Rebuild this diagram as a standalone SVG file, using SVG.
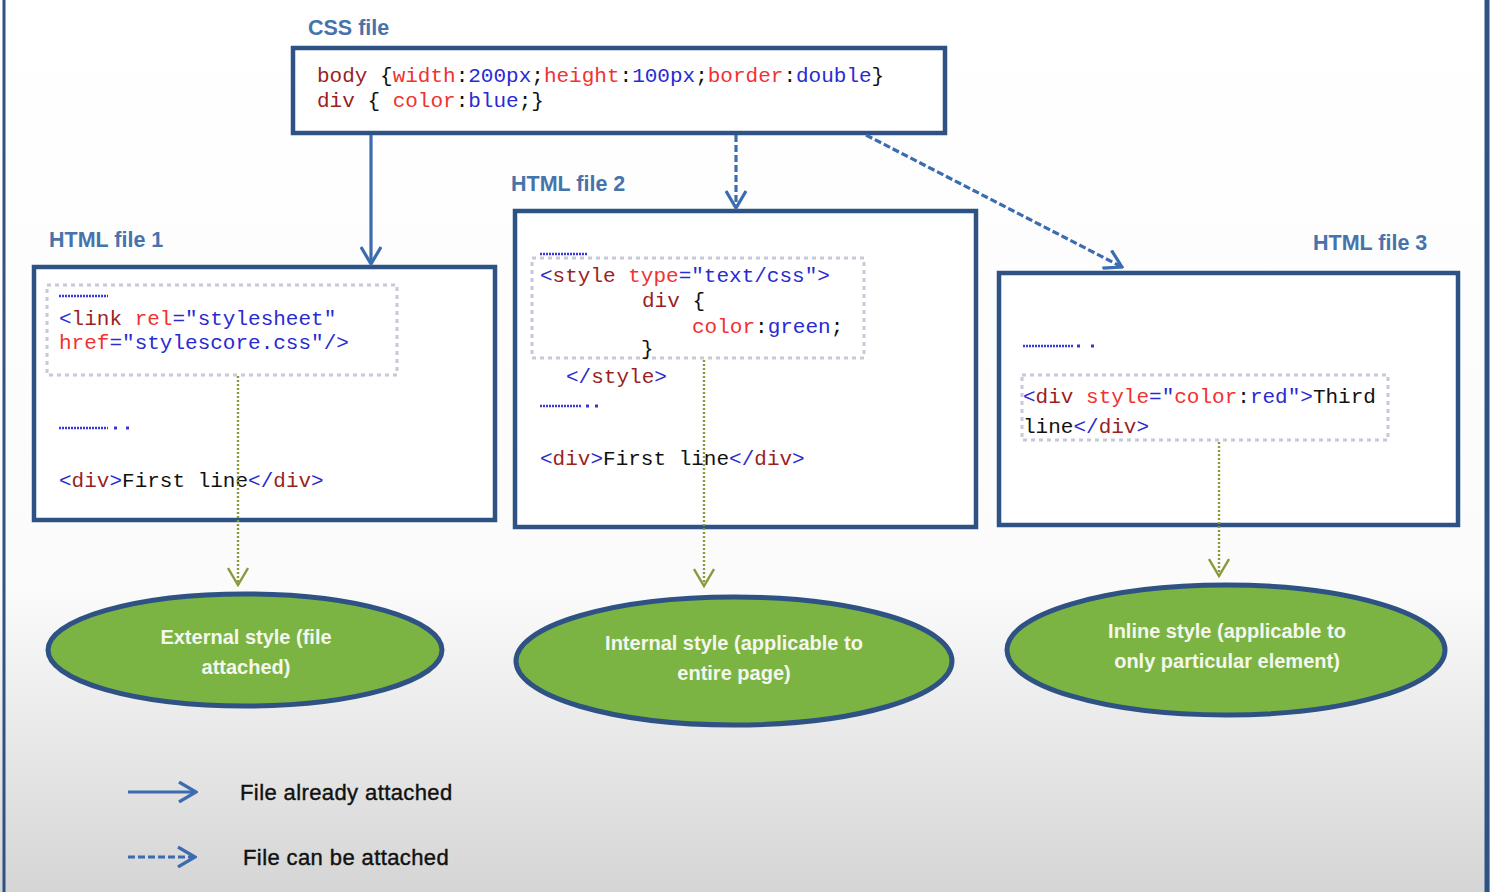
<svg xmlns="http://www.w3.org/2000/svg" width="1490" height="892" viewBox="0 0 1490 892">
<defs>
  <linearGradient id="bg" x1="0" y1="0" x2="0" y2="1">
    <stop offset="0" stop-color="#ffffff"/>
    <stop offset="0.66" stop-color="#fbfbfb"/>
    <stop offset="1" stop-color="#d5d5d5"/>
  </linearGradient>
  <marker id="blueHead" viewBox="0 0 22 22" refX="20" refY="11" markerWidth="22" markerHeight="22" markerUnits="userSpaceOnUse" orient="auto">
    <path d="M3,1 L20,11 L3,21" fill="none" stroke="#3b6caf" stroke-width="3.2"/>
  </marker>
  <marker id="greenHead" viewBox="0 0 22 22" refX="20" refY="11" markerWidth="22" markerHeight="22" markerUnits="userSpaceOnUse" orient="auto">
    <path d="M3,1 L20,11 L3,21" fill="none" stroke="#8a9a3a" stroke-width="2.4"/>
  </marker>
</defs>
<style>
  .box { fill: #ffffff; stroke: #2e5283; stroke-width: 4.5; }
  .inner { fill: none; stroke: #c6cad8; stroke-width: 3; stroke-dasharray: 4 4; }
  .label { font-family: "Liberation Sans", Arial, sans-serif; font-size: 21.5px; font-weight: bold; fill: #4773ab; }
  .code { font-family: "Liberation Mono", "DejaVu Sans Mono", monospace; font-size: 21px; fill: #111111; white-space: pre; }
  .dr { fill: #9a1f1f; }
  .rd { fill: #f03232; }
  .bl { fill: #2a2ad2; }
  .bk { fill: #111111; }
  .dots { stroke: #3838d8; stroke-width: 2.5; stroke-dasharray: 2 1; }
  .dot { fill: #3838d8; }
  .solid { fill: none; stroke: #3b6caf; stroke-width: 3.2; }
  .dashed { fill: none; stroke: #3b6caf; stroke-width: 3.2; stroke-dasharray: 7 3; }
  .green { fill: none; stroke: #8a9a3a; stroke-width: 2.4; stroke-dasharray: 2 2; }
  .ell { fill: #7cb443; stroke: #2e5283; stroke-width: 5; }
  .etext { font-family: "Liberation Sans", Arial, sans-serif; font-size: 20px; font-weight: bold; fill: #f4f7ee; text-anchor: middle; }
  .legend { font-family: "Liberation Sans", Arial, sans-serif; font-size: 22px; fill: #111111; letter-spacing: 0.4px; stroke: #111111; stroke-width: 0.4px; }
</style>

<rect x="0" y="0" width="1490" height="892" fill="url(#bg)"/>
<line x1="4" y1="0" x2="4" y2="892" stroke="#2e5283" stroke-width="3"/>
<line x1="1487" y1="0" x2="1487" y2="892" stroke="#2e5283" stroke-width="5"/>

<g id="css-file">
  <text class="label" x="308" y="35">CSS file</text>
  <rect class="box" x="293" y="48" width="652" height="85"/>
  <text class="code" x="317" y="82"><tspan class="dr">body</tspan> {<tspan class="rd">width</tspan>:<tspan class="bl">200px</tspan>;<tspan class="rd">height</tspan>:<tspan class="bl">100px</tspan>;<tspan class="rd">border</tspan>:<tspan class="bl">double</tspan>}</text>
  <text class="code" x="317" y="107"><tspan class="dr">div</tspan> { <tspan class="rd">color</tspan>:<tspan class="bl">blue</tspan>;}</text>
</g>

<g id="html-file-1">
  <text class="label" x="49" y="247">HTML file 1</text>
  <rect class="box" x="34" y="267" width="461" height="253"/>
  <rect class="inner" x="47" y="285" width="350" height="90"/>
  <line class="dots" x1="59" y1="296" x2="108" y2="296"/>
  <text class="code" x="59" y="325"><tspan class="bl">&lt;</tspan><tspan class="dr">link</tspan> <tspan class="rd">rel</tspan><tspan class="bl">="stylesheet"</tspan></text>
  <text class="code" x="59" y="349"><tspan class="rd">href</tspan><tspan class="bl">="stylescore.css"/&gt;</tspan></text>
  <line class="dots" x1="59" y1="428" x2="108" y2="428"/>
  <rect class="dot" x="114" y="426.5" width="3" height="3"/>
  <rect class="dot" x="126" y="426.5" width="3" height="3"/>
  <text class="code" x="59" y="487"><tspan class="bl">&lt;</tspan><tspan class="dr">div</tspan><tspan class="bl">&gt;</tspan>First line<tspan class="bl">&lt;/</tspan><tspan class="dr">div</tspan><tspan class="bl">&gt;</tspan></text>
</g>

<g id="html-file-2">
  <text class="label" x="511" y="191">HTML file 2</text>
  <rect class="box" x="515" y="211" width="461" height="316"/>
  <rect class="inner" x="532" y="258" width="332" height="100"/>
  <line class="dots" x1="540" y1="254" x2="588" y2="254"/>
  <text class="code" x="540" y="282"><tspan class="bl">&lt;</tspan><tspan class="dr">style</tspan> <tspan class="rd">type</tspan><tspan class="bl">="text/css"&gt;</tspan></text>
  <text class="code" x="642" y="307"><tspan class="dr">div</tspan> {</text>
  <text class="code" x="692" y="333"><tspan class="rd">color</tspan>:<tspan class="bl">green</tspan>;</text>
  <text class="code" x="641" y="355">}</text>
  <text class="code" x="566" y="383"><tspan class="bl">&lt;/</tspan><tspan class="dr">style</tspan><tspan class="bl">&gt;</tspan></text>
  <line class="dots" x1="540" y1="406" x2="582" y2="406"/>
  <rect class="dot" x="586" y="404.5" width="3" height="3"/>
  <rect class="dot" x="595" y="404.5" width="3" height="3"/>
  <text class="code" x="540" y="465"><tspan class="bl">&lt;</tspan><tspan class="dr">div</tspan><tspan class="bl">&gt;</tspan>First line<tspan class="bl">&lt;/</tspan><tspan class="dr">div</tspan><tspan class="bl">&gt;</tspan></text>
</g>

<g id="html-file-3">
  <text class="label" x="1313" y="250">HTML file 3</text>
  <rect class="box" x="999" y="273" width="459" height="252"/>
  <line class="dots" x1="1023" y1="346" x2="1073" y2="346"/>
  <rect class="dot" x="1077" y="344.5" width="3" height="3"/>
  <rect class="dot" x="1091" y="344.5" width="3" height="3"/>
  <rect class="inner" x="1022" y="375" width="366" height="65"/>
  <text class="code" x="1023" y="403"><tspan class="bl">&lt;</tspan><tspan class="dr">div</tspan> <tspan class="rd">style</tspan><tspan class="bl">="</tspan><tspan class="rd">color</tspan>:<tspan class="bl">red"&gt;</tspan>Third</text>
  <text class="code" x="1023" y="433">line<tspan class="bl">&lt;/</tspan><tspan class="dr">div</tspan><tspan class="bl">&gt;</tspan></text>
</g>

<g id="external-style">
  <ellipse class="ell" cx="245" cy="650" rx="197" ry="56"/>
  <text class="etext" x="246" y="644">External style (file</text>
  <text class="etext" x="246" y="674">attached)</text>
</g>

<g id="internal-style">
  <ellipse class="ell" cx="734" cy="661" rx="218" ry="64"/>
  <text class="etext" x="734" y="650">Internal style (applicable to</text>
  <text class="etext" x="734" y="680">entire page)</text>
</g>

<g id="inline-style">
  <ellipse class="ell" cx="1226" cy="650" rx="219" ry="65"/>
  <text class="etext" x="1227" y="638">Inline style (applicable to</text>
  <text class="etext" x="1227" y="668">only particular element)</text>
</g>

<g id="connectors">
  <line class="solid" x1="371" y1="135" x2="371" y2="264" marker-end="url(#blueHead)"/>
  <line class="dashed" x1="736" y1="135" x2="736" y2="208" marker-end="url(#blueHead)"/>
  <line class="dashed" x1="866" y1="135" x2="1122" y2="267" marker-end="url(#blueHead)"/>
  <line class="green" x1="238" y1="376" x2="238" y2="585" marker-end="url(#greenHead)"/>
  <line class="green" x1="704" y1="360" x2="704" y2="586" marker-end="url(#greenHead)"/>
  <line class="green" x1="1219" y1="442" x2="1219" y2="576" marker-end="url(#greenHead)"/>
</g>

<g id="legend">
  <line class="solid" x1="128" y1="792" x2="196" y2="792" marker-end="url(#blueHead)"/>
  <text class="legend" x="240" y="800">File already attached</text>
  <line class="dashed" x1="128" y1="857" x2="195" y2="857" marker-end="url(#blueHead)"/>
  <text class="legend" x="243" y="865">File can be attached</text>
</g>
</svg>
